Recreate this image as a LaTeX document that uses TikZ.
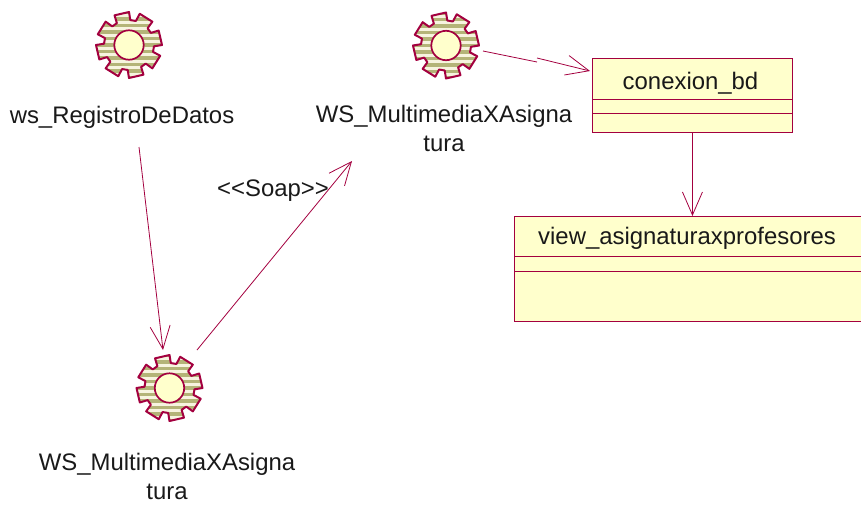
\documentclass[tikz,border=0pt]{standalone}
\usepackage{fontspec}
\setmainfont{Liberation Sans}
\usetikzlibrary{arrows.meta}
\definecolor{umlline}{HTML}{A3003F}
\definecolor{umlfill}{HTML}{FFFFCC}
\definecolor{gearbg}{HTML}{F7F4DF}
\definecolor{gearstripe}{HTML}{B4B478}
\newcommand{\gearoutline}{(119:25pt)
  \foreach \a in {103,58,13,-32,-77,-122,-167,-212}{
    -- ({\a+13}:33pt) -- ({\a-13}:33pt) -- ({\a-16}:25pt) -- ({\a-29}:25pt)
  } -- cycle}
\tikzset{
  conn/.style={draw=umlline,line width=0.8pt},
  arr/.style={conn,-{Straight Barb[length=23pt,width=20pt,line width=0.8pt]}},
  lbl/.style={font=\fontsize{23.9pt}{29pt}\selectfont,text=black!90,inner sep=0pt,align=center},
  classbox/.style={draw=umlline,fill=umlfill,line width=0.9pt,inner sep=0pt,anchor=north west},
  divider/.style={draw=umlline,line width=0.9pt},
  gearpic/.pic={
    \begin{scope}
      \clip \gearoutline;
      \fill[gearbg] (-36pt,-36pt) rectangle (36pt,36pt);
      \foreach \s in {-6,...,6}{
        \fill[gearstripe] (-36pt,{\s*6.5pt-1.7pt}) rectangle (36pt,{\s*6.5pt+1.7pt});
      }
    \end{scope}
    \draw[umlline,line width=2pt,line join=round] \gearoutline;
    \draw[umlline,fill=umlfill,line width=1.7pt] (0pt,0pt) circle (14.7pt);
  }
}
\begin{document}
\begin{tikzpicture}[x=1pt,y=-1pt]
\useasboundingbox (0,0) rectangle (861,504);
% gears
\coordinate (gearA) at (129,45);
\coordinate (gearB) at (446,45.5);
\coordinate (gearC) at (169.5,388);
\pic at (gearA) {gearpic};
\pic at (gearB) {gearpic};
\pic at (gearC) {gearpic};
% labels
\node[lbl] (labA) at (122,117) {ws\_RegistroDeDatos};
\node[lbl,anchor=north] (labB) at (444,105) {WS\_MultimediaXAsigna\\tura};
\node[lbl,anchor=north] (labC) at (167,453) {WS\_MultimediaXAsigna\\tura};
\node[lbl] (soap) at (273,190.5) {<\kern0pt<Soap>\kern0pt>};
% classes
\node[classbox,minimum width=200pt,minimum height=74pt] (conexion) at (592,58) {};
\node[classbox,minimum width=346.5pt,minimum height=105pt] (viewbox) at (514,216) {};
\draw[divider] (592,99) -- (792,99) (592,113) -- (792,113);
\draw[divider] (514,256) -- (860.5,256) (514,271) -- (860.5,271);
\node[lbl] (conexionname) at (690.5,83) {conexion\_bd};
\node[lbl] (viewname) at (687,238.5) {view\_asignaturaxprofesores};
% connector ends
\coordinate (a1) at (139,147);
\coordinate (a2) at (163,350);
\coordinate (b1) at (197,350);
\coordinate (b2) at (352,161);
\coordinate (c1) at (483,51);
\coordinate (c2) at (537,62);
\coordinate (c3) at (537,58);
\coordinate (c4) at (590,71);
\draw[arr] (a1) -- (a2);
\draw[arr] (b1) -- (b2);
\draw[conn] (c1) -- (c2);
\draw[arr] (c3) -- (c4);
\draw[arr] (conexion.south) -- (conexion.south |- viewbox.north);
\end{tikzpicture}
\end{document}
